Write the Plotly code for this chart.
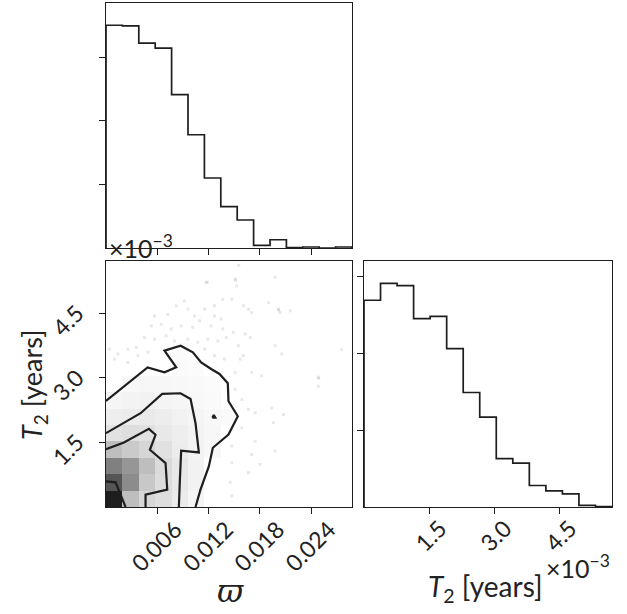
import numpy as np
import plotly.graph_objects as go

W, H = 627, 614

# ---------------- data ----------------
omega_range = [0.0, 0.0288]
t2_range = [0.0, 5.72e-3]
n_bins = 15

omega_hist = [3.50, 3.49, 3.22, 3.14, 2.41, 1.78, 1.10, 0.65, 0.44, 0.04,
              0.13, 0.005, 0.016, 0.0, 0.016]
t2_hist = [2.69, 2.91, 2.88, 2.45, 2.48, 2.06, 1.49, 1.17, 0.63, 0.57,
           0.28, 0.21, 0.17, 0.02, 0.004]

omega_ticks = [0.006, 0.012, 0.018, 0.024]
omega_ticktext = ["0.006", "0.012", "0.018", "0.024"]
t2_ticks = [1.5e-3, 3.0e-3, 4.5e-3]
t2_ticktext = ["1.5", "3.0", "4.5"]
hist_ticks = [1, 2, 3]

# 2D density (rows = T2 bins from bottom, cols = omega bins from left)
density_rows = [
    [0.882, 0.255, 0.157, 0.129, 0.078, 0.039],
    [0.667, 0.451, 0.216, 0.137, 0.090, 0.051],
    [0.498, 0.412, 0.255, 0.145, 0.090, 0.051],
    [0.255, 0.208, 0.161, 0.118, 0.075, 0.047, 0.027],
    [0.114, 0.129, 0.122, 0.090, 0.067, 0.047, 0.031],
    [0.067, 0.075, 0.082, 0.071, 0.051, 0.039, 0.027, 0.020],
    [0.039, 0.047, 0.051, 0.043, 0.035, 0.027, 0.020],
    [None, 0.027, 0.031, 0.031, 0.027, 0.024, 0.016],
    [None, None, None, None, 0.020, 0.016],
    [None, None, None, None, 0.016],
]

# contour lines (omega, T2 in 1e-3 years)
c1_x = [0.0, 0.00487, 0.00685, 0.00822, 0.00685, 0.00873, 0.01017, 0.01114, 0.01231,
        0.01329, 0.01426, 0.01434, 0.01543, 0.01434, 0.01251, 0.01204, 0.01106, 0.01048]
c1_y = [2.467, 3.247, 3.131, 3.247, 3.634, 3.750, 3.595, 3.363, 3.209,
        3.093, 2.876, 2.459, 2.111, 1.686, 1.377, 0.944, 0.403, 0.0]
c2_x = [0.0, 0.00405, 0.00658, 0.00873, 0.00990, 0.01048, 0.01087, 0.00880, 0.00865, 0.00853]
c2_y = [1.717, 2.181, 2.629, 2.645, 2.513, 1.949, 1.269, 1.308, 0.635, 0.0]
c3_x = [0.0, 0.00210, 0.00502, 0.00580, 0.00514, 0.00697, 0.00717, 0.00463, 0.00463]
c3_y = [1.346, 1.501, 1.818, 1.679, 1.331, 1.022, 0.403, 0.287, 0.0]
c4_x = [0.0, 0.00112, 0.00210, 0.00229]
c4_y = [0.597, 0.573, 0.094, 0.0]
c5_x = [0.01245, 0.01280, 0.01262, 0.01245]
c5_y = [2.075, 2.075, 2.14, 2.075]

# faint outlying samples (omega, T2 in 1e-3 years)
pts_omega = [0.01173, 0.00919, 0.00822, 0.00958, 0.01153, 0.0127, 0.01367, 0.00568, 0.00724,
             0.01036, 0.01095, 0.0127, 0.01348, 0.0053, 0.00647, 0.00764, 0.00881, 0.01016,
             0.01232, 0.01367, 0.00451, 0.00568, 0.00705, 0.00802, 0.00958, 0.01075, 0.01192,
             0.01309, 0.01407, 0.00256, 0.00354, 0.00139, 0.00373, 0.0049, 0.01153, 0.0127,
             0.01387, 0.001, 0.00256, 0.00042,
             0.01512, 0.01531, 0.01473, 0.01609, 0.01668, 0.01706, 0.01629, 0.01688, 0.01492,
             0.01551, 0.01609, 0.01571, 0.01512, 0.01706, 0.01823, 0.01902, 0.02019, 0.02156,
             0.02039, 0.0198, 0.02057, 0.02487, 0.02759, 0.0198,
             0.01512, 0.0159, 0.01668, 0.01746, 0.0194, 0.02077, 0.0196, 0.0159, 0.01473,
             0.01746, 0.0198, 0.01706, 0.01805, 0.01668, 0.01473, 0.01454, 0.02487, 0.01473,
             0.01185, 0.01516, 0.01554, 0.0249, 0.02022]
pts_t2 = [5.22, 4.79, 4.68, 4.60, 4.60, 4.68, 4.83, 4.44, 4.48,
          4.44, 4.33, 4.44, 4.37, 4.21, 4.25, 4.14, 4.21, 4.18,
          4.21, 4.14, 3.94, 3.90, 3.98, 3.86, 3.90, 3.83, 3.90,
          3.86, 3.94, 3.67, 3.71, 3.56, 3.52, 3.60, 3.67, 3.52,
          3.44, 3.44, 3.36, 3.67,
          5.30, 5.14, 4.83, 4.68, 4.60, 4.52, 4.02, 3.94, 4.06,
          3.75, 3.52, 3.44, 3.13, 3.13, 3.05, 4.75, 4.60, 4.56,
          4.52, 3.75, 3.56, 3.02, 3.66, 5.34,
          2.73, 2.50, 2.27, 2.19, 2.30, 2.15, 1.96, 1.84, 1.42,
          1.53, 1.30, 1.22, 0.99, 0.80, 1.03, 0.57, 2.81, 0.26,
          5.23, 5.27, 5.62, 2.99, 4.58]

# ---------------- derived ----------------
om_edges = np.linspace(omega_range[0], omega_range[1], n_bins + 1)
t2_edges = np.linspace(t2_range[0], t2_range[1], n_bins + 1)
om_cent = 0.5 * (om_edges[:-1] + om_edges[1:])
t2_cent = 0.5 * (t2_edges[:-1] + t2_edges[1:])

def step_xy(edges, counts):
    xs, ys = [edges[0]], [0.0]
    for i, c in enumerate(counts):
        xs += [edges[i], edges[i + 1]]
        ys += [c, c]
    xs.append(edges[-1]); ys.append(0.0)
    return xs, ys

z = [[None] * n_bins for _ in range(n_bins)]
for r, row in enumerate(density_rows):
    for c, v in enumerate(row):
        z[r][c] = v

fig = go.Figure()
FONT = "Lato"
LINE = "#1e1e1e"
TXT = "#222"

hx, hy = step_xy(om_edges, omega_hist)
fig.add_trace(go.Scatter(x=hx, y=hy, mode="lines", line=dict(color=LINE, width=1.7),
                         xaxis="x", yaxis="y", showlegend=False, hoverinfo="skip"))

fig.add_trace(go.Scatter(x=pts_omega, y=[v * 1e-3 for v in pts_t2], mode="markers",
                         marker=dict(color="rgba(0,0,0,0.09)", size=3, symbol="square"),
                         xaxis="x2", yaxis="y2", showlegend=False, hoverinfo="skip"))
fig.add_trace(go.Heatmap(x=om_cent, y=t2_cent, z=z, zmin=0, zmax=1,
                         colorscale=[[0, "#ffffff"], [1, "#000000"]], showscale=False,
                         xaxis="x2", yaxis="y2", hoverinfo="skip"))
for cx, cy in [(c1_x, c1_y), (c2_x, c2_y), (c3_x, c3_y), (c4_x, c4_y), (c5_x, c5_y)]:
    fig.add_trace(go.Scatter(x=cx, y=[v * 1e-3 for v in cy], mode="lines",
                             line=dict(color=LINE, width=2.2),
                             xaxis="x2", yaxis="y2", showlegend=False, hoverinfo="skip"))

tx, ty = step_xy(t2_edges, t2_hist)
fig.add_trace(go.Scatter(x=tx, y=ty, mode="lines", line=dict(color=LINE, width=1.7),
                         xaxis="x3", yaxis="y3", showlegend=False, hoverinfo="skip"))

ax_common = dict(showline=True, mirror=True, linecolor=LINE, linewidth=1.2, ticks="outside",
                 ticklen=6, tickwidth=1.2, tickcolor=LINE, showgrid=False, zeroline=False,
                 tickfont=dict(family=FONT, size=23, color=TXT))

xd1 = [106 / W, 352 / W]
xd2 = [364 / W, 612 / W]
yd_top = [1 - 248 / H, 1 - 3 / H]
yd_bot = [1 - 507 / H, 1 - 261 / H]

fig.update_layout(
    width=W, height=H, margin=dict(l=0, r=0, t=0, b=0),
    paper_bgcolor="white", plot_bgcolor="white",
    xaxis=dict(ax_common, domain=xd1, range=omega_range, tickvals=omega_ticks,
               showticklabels=False, anchor="y"),
    yaxis=dict(ax_common, domain=yd_top, range=[0, 1.1 * max(omega_hist)], tickvals=hist_ticks,
               showticklabels=False, anchor="x"),
    xaxis2=dict(ax_common, domain=xd1, range=omega_range, tickvals=omega_ticks,
                ticktext=omega_ticktext, tickangle=-45, anchor="y2",
                ticklabelshift=18, ticklabelstandoff=-7),
    yaxis2=dict(ax_common, domain=yd_bot, range=t2_range, tickvals=t2_ticks,
                ticktext=t2_ticktext, tickangle=-45, anchor="x2",
                ticklabelstandoff=17, ticklabelshift=-3),
    xaxis3=dict(ax_common, domain=xd2, range=t2_range, tickvals=t2_ticks,
                ticktext=t2_ticktext, tickangle=-45, anchor="y3",
                ticklabelshift=11, ticklabelstandoff=-8),
    yaxis3=dict(ax_common, domain=yd_bot, range=[0, 1.1 * max(t2_hist)], tickvals=hist_ticks,
                showticklabels=False, anchor="x3"),
)

ann_font = dict(family=FONT, size=28, color=TXT)
fig.add_annotation(text="×10<sup>−3</sup>", xref="paper", yref="paper", x=107 / W, y=1 - 247 / H,
                   xanchor="left", yanchor="middle", showarrow=False,
                   font=dict(family=FONT, size=25, color=TXT))
fig.add_annotation(text="×10<sup>−3</sup>", xref="paper", yref="paper", x=612 / W, y=1 - 566 / H,
                   xanchor="right", yanchor="middle", showarrow=False,
                   font=dict(family=FONT, size=25, color=TXT))
fig.add_annotation(text="<i>ϖ</i>", xref="paper", yref="paper", x=230 / W, y=1 - 591 / H,
                   xanchor="center", yanchor="middle", showarrow=False,
                   font=dict(family="DejaVu Serif", size=32, color=TXT))
fig.add_annotation(text="<i>T</i><sub>2</sub> [years]", xref="paper", yref="paper", x=485 / W, y=1 - 588 / H,
                   xanchor="center", yanchor="middle", showarrow=False, font=ann_font)
fig.add_annotation(text="<i>T</i><sub>2</sub> [years]", xref="paper", yref="paper", x=34 / W, y=1 - 385 / H,
                   xanchor="center", yanchor="middle", textangle=-90, showarrow=False,
                   font=dict(family=FONT, size=27, color=TXT))

fig.write_html("out.html", post_script="document.body.style.margin='0px';",
               config={"displayModeBar": False})
